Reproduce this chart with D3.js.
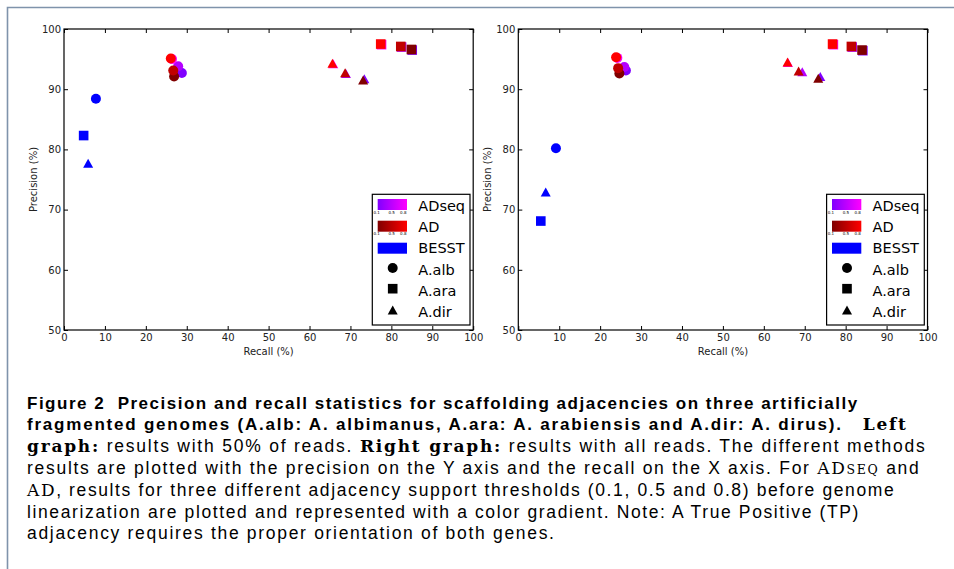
<!DOCTYPE html>
<html><head><meta charset="utf-8">
<script src="https://cdn.jsdelivr.net/npm/d3@7"></script>
<style>body{margin:0;background:#fff}svg{display:block}</style>
</head><body><svg id="c" width="954" height="569"></svg>
<script>
// ---------- data ----------
const xTicks = [0,10,20,30,40,50,60,70,80,90,100];
const yTicks = [50,60,70,80,90,100];
const thresholds = ["0.1","0.5","0.8"];
const species = ["A.alb","A.ara","A.dir"];
const methods = ["ADseq","AD","BESST"];
const adColors = ["#800000","#c00000","#ff0000"];      // thresholds 0.1, 0.5, 0.8
const adseqColors = ["#8000ff","#b400ff","#ff00ff"];   // thresholds 0.1, 0.5, 0.8
const besstColor = "#0000ff";

// Left graph (50% of reads) : [recall, precision] for thresholds 0.1, 0.5, 0.8
const left_ADseq_alb = [[28.8,92.7],[27.9,93.8],[26.4,95.0]];
const left_ADseq_ara = [[85.1,96.5],[82.5,97.0],[77.6,97.4]];
const left_ADseq_dir = [[73.4,91.7],[68.9,92.6],[65.8,94.2]];
const left_AD_alb = [[26.9,92.1],[26.7,93.1],[26.1,95.1]];
const left_AD_ara = [[84.9,96.6],[82.3,97.1],[77.4,97.5]];
const left_AD_dir = [[73.1,91.5],[68.7,92.7],[65.6,94.3]];
const left_BESST = [[7.8,88.4],[4.8,82.3],[5.9,77.7]];   // alb, ara, dir

// Right graph (all reads)
const right_ADseq_alb = [[26.3,93.1],[25.9,93.7],[24.2,95.2]];
const right_ADseq_ara = [[84.2,96.4],[81.6,97.0],[77.0,97.4]];
const right_ADseq_dir = [[73.8,92.1],[69.4,92.9],[65.9,94.4]];
const right_AD_alb = [[24.7,92.6],[24.4,93.5],[23.9,95.3]];
const right_AD_ara = [[84.0,96.5],[81.4,97.1],[76.8,97.5]];
const right_AD_dir = [[73.3,91.8],[68.5,93.0],[65.8,94.5]];
const right_BESST = [[9.2,80.2],[5.5,68.1],[6.7,72.9]];

const xLabel = "Recall (%)";
const yLabel = "Precision (%)";

// caption
const captionLines = [
  [["sb","Figure 2  Precision and recall statistics for scaffolding adjacencies on three artificially"]],
  [["sb","fragmented genomes (A.alb: A. albimanus, A.ara: A. arabiensis and A.dir: A. dirus)."],["s","   "],["rb","Left"]],
  [["rb","graph:"],["s"," results with 50% of reads. "],["rb","Right graph:"],["s"," results with all reads. The different methods"]],
  [["s","results are plotted with the precision on the Y axis and the recall on the X axis. For "],["r","AD"],["rsc","SEQ"],["s"," and"]],
  [["r","AD"],["s",", results for three different adjacency support thresholds (0.1, 0.5 and 0.8) before genome"]],
  [["s","linearization are plotted and represented with a color gradient. Note: A True Positive (TP)"]],
  [["s","adjacency requires the proper orientation of both genes."]]
];
const capPrefix = [
  "Figure 2  Precision and recall statistics for sca",
  "fragmented genomes (A.alb: A. albimanus, A.",
  "graph: results with 50% of reads. Right grap",
  "results are plotted with the precision on the Y a",
  "AD, results for three different adjacency support",
  "linearization are plotted and represented with a ",
  "adjacency requires the proper orientation of bot"
];
const capPrefixEnd = [476, 469, 480, 474, 478, 475, 475];

// ---------- drawing ----------
const svg = d3.select("#c");
svg.append("rect").attr("width",954).attr("height",569).attr("fill","#fff");
svg.append("path").attr("d","M7.5,569V7.5H954").attr("fill","none")
  .attr("stroke","#7f93ab").attr("stroke-width",1.6);

const shapes = ["circle","square","triangle"];
function marker(sel, shape, cx, cy, color) {
  if (shape === "circle") {
    sel.append("circle").attr("cx",cx).attr("cy",cy).attr("r",5).attr("fill",color);
  } else if (shape === "square") {
    sel.append("rect").attr("x",cx-4.8).attr("y",cy-4.8).attr("width",9.6).attr("height",9.6).attr("fill",color);
  } else {
    sel.append("path").attr("d",`M${cx},${cy-4.6}L${cx+5},${cy+4.4}L${cx-5},${cy+4.4}Z`).attr("fill",color);
  }
}

function drawPanel(x0, adseq, ad, besst) {
  const x = d3.scaleLinear().domain([0,100]).range([x0, x0+409.2]);
  const y = d3.scaleLinear().domain([50,100]).range([330, 29]);
  const g = svg.append("g");
  const styleAxis = a => {
    a.select(".domain").remove();
    a.selectAll("line").attr("stroke","#000");
    a.selectAll("text").attr("font-family","DejaVu Sans").attr("font-size",10).attr("fill","#222");
  };
  g.append("g").attr("transform","translate(0,330)")
    .call(d3.axisBottom(x).tickValues(xTicks).tickSize(-4).tickPadding(4).tickFormat(d3.format("d"))).call(styleAxis);
  g.append("g").attr("transform","translate(0,29)")
    .call(d3.axisTop(x).tickValues(xTicks).tickSize(-4).tickFormat("")).call(styleAxis);
  g.append("g").attr("transform",`translate(${x0},0)`)
    .call(d3.axisLeft(y).tickValues(yTicks).tickSize(-4).tickPadding(3).tickFormat(d3.format("d"))).call(styleAxis);
  g.append("g").attr("transform",`translate(${x0+409.2},0)`)
    .call(d3.axisRight(y).tickValues(yTicks).tickSize(-4).tickFormat("")).call(styleAxis);
  g.append("rect").attr("x",x0).attr("y",29).attr("width",409.2).attr("height",301)
    .attr("fill","none").attr("stroke","#000").attr("stroke-width",1.2);

  // axis labels
  g.append("text").attr("x",(x(0)+x(100))/2).attr("y",355).attr("text-anchor","middle")
    .attr("font-family","DejaVu Sans").attr("font-size",10).attr("fill","#222").text(xLabel);
  g.append("text").attr("transform",`translate(${x0-27.3},${(y(50)+y(100))/2}) rotate(-90)`)
    .attr("text-anchor","middle").attr("font-family","DejaVu Sans").attr("font-size",10).attr("fill","#222").text(yLabel);

  // points
  const pts = g.append("g");
  adseq.forEach((ser,si) => ser.forEach((d,ti) => marker(pts, shapes[si], x(d[0]), y(d[1]), adseqColors[ti])));
  ad.forEach((ser,si) => ser.forEach((d,ti) => marker(pts, shapes[si], x(d[0]), y(d[1]), adColors[ti])));
  besst.forEach((d,si) => marker(pts, shapes[si], x(d[0]), y(d[1]), besstColor));

  // legend
  const lg = g.append("g").attr("transform",`translate(${x0},0)`);
  lg.append("rect").attr("x",308.3).attr("y",194.3).attr("width",97.7).attr("height",130.7)
    .attr("fill","#fff").attr("stroke","#000").attr("stroke-width",1.2);
  const gradIds = ["gAdseq"+Math.round(x0), "gAd"+Math.round(x0)];
  const defs = svg.append("defs");
  [[adseqColors,gradIds[0]],[adColors,gradIds[1]]].forEach(([cols,id]) => {
    const lgd = defs.append("linearGradient").attr("id",id);
    lgd.append("stop").attr("offset","0%").attr("stop-color",cols[0]);
    lgd.append("stop").attr("offset","100%").attr("stop-color",cols[2]);
  });
  const swX = 313.7, swW = 29.3, swH = 11;
  const swY = [199, 220.7, 242.7];
  const fills = [`url(#${gradIds[0]})`, `url(#${gradIds[1]})`, besstColor];
  const txtY = [210.7, 231.8, 253.3];
  methods.forEach((m,i) => {
    lg.append("rect").attr("x",swX).attr("y",swY[i]).attr("width",swW).attr("height",swH).attr("fill",fills[i]);
    lg.append("text").attr("x",354.3).attr("y",txtY[i]).attr("font-family","DejaVu Sans")
      .attr("font-size",14.5).attr("fill","#000").text(m);
    if (i < 2) {
      const offs = [-1, 14, 25.6];
      thresholds.forEach((t,k) => lg.append("text").attr("x",swX+offs[k]).attr("y",swY[i]+swH+3.6)
        .attr("text-anchor","middle").attr("font-family","DejaVu Sans").attr("font-size",4).attr("fill","#000").text(t));
    }
  });
  const spY = [268, 288.7, 310];
  const spTxtY = [274.5, 295.8, 317.3];
  species.forEach((s,i) => {
    marker(lg, shapes[i], 328.7, spY[i], "#000");
    lg.append("text").attr("x",354.3).attr("y",spTxtY[i]).attr("font-family","DejaVu Sans")
      .attr("font-size",14.5).attr("fill","#000").text(s);
  });
}

drawPanel(64, [left_ADseq_alb,left_ADseq_ara,left_ADseq_dir], [left_AD_alb,left_AD_ara,left_AD_dir], left_BESST);
drawPanel(518.3, [right_ADseq_alb,right_ADseq_ara,right_ADseq_dir], [right_AD_alb,right_AD_ara,right_AD_dir], right_BESST);

// caption
const fonts = {
  sb: ["Liberation Sans","bold",17],
  s: ["Liberation Sans","normal",17.5],
  rb: ["DejaVu Serif","bold",17],
  r: ["DejaVu Serif","normal",17],
  rsc: ["DejaVu Serif","normal",12.5]
};
const capX = 27, capY0 = 408.7, capStep = 21.77;
captionLines.forEach((segs,i) => {
  const t = svg.append("text").attr("x",capX).attr("y",capY0 + i*capStep)
    .style("white-space","pre").attr("fill","#000");
  segs.forEach(([k,str]) => {
    const f = fonts[k];
    t.append("tspan").attr("font-family",f[0]).attr("font-weight",f[1]).attr("font-size",f[2]).text(str);
  });
  const n = capPrefix[i].length;
  let w;
  try { w = t.node().getSubStringLength(0, n); }
  catch(e) { w = t.node().getComputedTextLength() * n / t.text().length; }
  const ls = (capPrefixEnd[i] - capX - w) / n;
  t.attr("letter-spacing", ls);
});
</script>
</body></html>
